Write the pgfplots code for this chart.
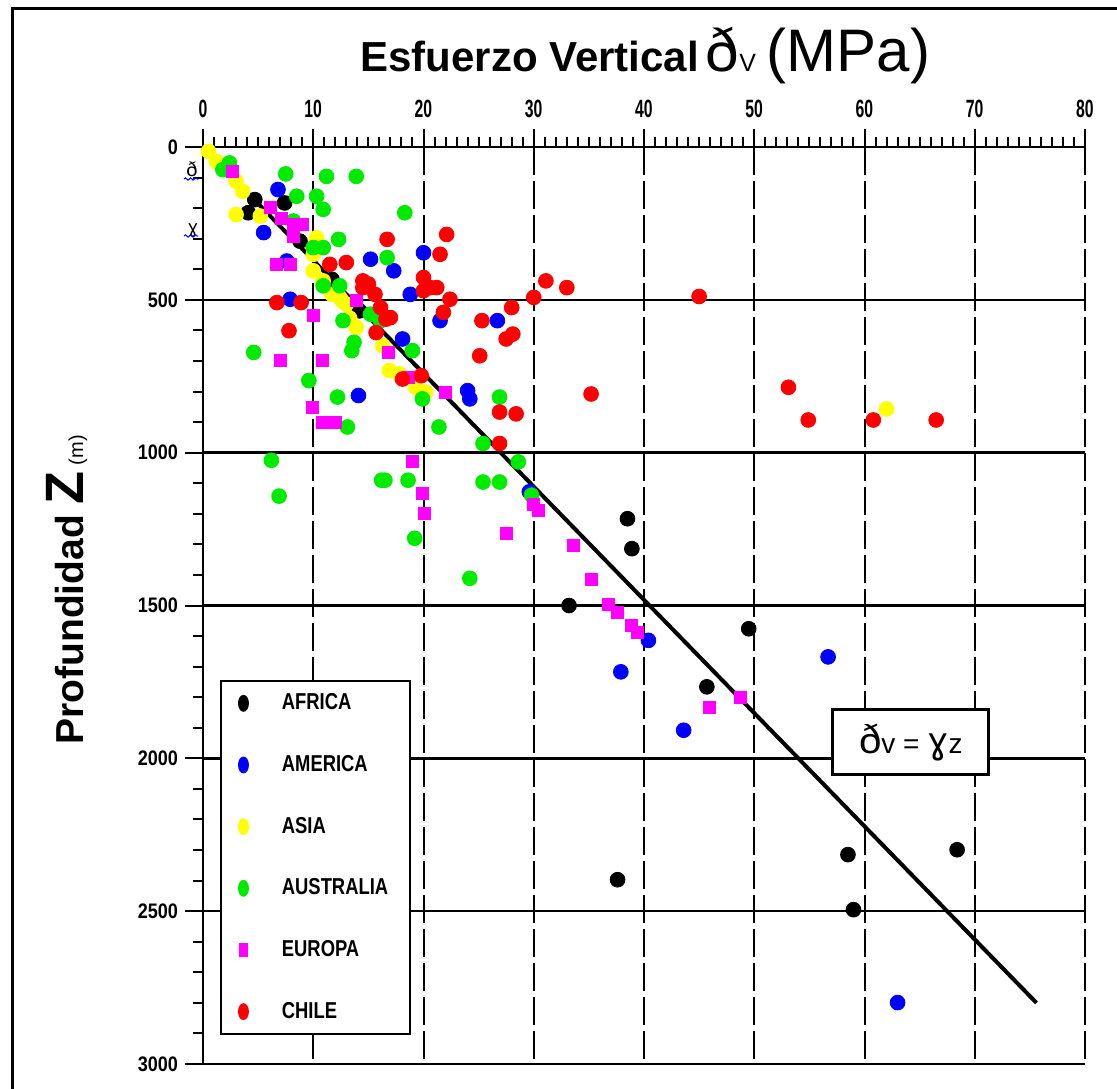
\documentclass[border=0pt]{standalone}
\usepackage{fontspec}
\usepackage{pgfplots}
\pgfplotsset{compat=1.18}
\usetikzlibrary{decorations.pathmorphing}
\setmainfont{Liberation Sans}
\newfontfamily\xtickfont[FakeStretch=0.63]{Liberation Sans Bold}
\newfontfamily\ytickfont[FakeStretch=0.86]{Liberation Sans Bold}
\newfontfamily\legfont[FakeStretch=0.8]{Liberation Sans Bold}
\newfontfamily\dvfont{DejaVu Sans}
\definecolor{cblue}{RGB}{0,0,255}
\definecolor{cyellow}{RGB}{255,255,0}
\definecolor{cgreen}{RGB}{0,235,0}
\definecolor{cmag}{RGB}{255,0,255}
\definecolor{cred}{RGB}{255,0,0}
\begin{document}
\begin{tikzpicture}
\useasboundingbox (0pt,0pt) rectangle (558.5pt,-544pt);
\draw[line width=1.5pt] (6pt,-546pt) -- (6pt,-4pt) -- (560pt,-4pt);
% title
\node[anchor=base west, inner sep=0] at (180pt,-35.5pt) {{\bfseries\fontsize{21}{22}\selectfont Esfuerzo Vertical}\hspace{3.5pt}{\fontsize{30}{30}\selectfont ð}{\fontsize{12.5}{13}\selectfont V}\hspace{5.5pt}{\fontsize{30}{30}\selectfont (MPa)}};
% y label
\node[rotate=90, anchor=base west, inner sep=0] at (41.5pt,-372.5pt) {{\bfseries\fontsize{19.5}{20}\selectfont Profundidad }{\bfseries\fontsize{27}{28}\selectfont Z}\hspace{3pt}{\fontsize{10}{11}\selectfont (m)}};
\begin{axis}[
  at={(101.5pt,-73.5pt)}, anchor=north west,
  width=441pt, height=458.5pt, scale only axis,
  xmin=0, xmax=80, ymin=0, ymax=3000, y dir=reverse,
  axis x line*=top, axis y line*=left,
  xtick={0,10,...,80}, ytick={0,500,...,3000},
  minor x tick num=9, minor y tick num=4,
  tick align=outside,
  major tick length=9pt, minor tick length=5pt,
  tick style={black, line width=1pt},
  axis line style={black, line width=1.3pt, -},
  xmajorgrids, ymajorgrids,
  major x grid style={black, line width=1pt, dash pattern=on 14pt off 3pt},
  major y grid style={black, line width=1.3pt},
  /pgf/number format/assume math mode=true,
  /pgf/number format/1000 sep={},
  xticklabel style={font=\xtickfont\fontsize{12.5}{13}\selectfont, yshift=2pt},
  yticklabel style={font=\ytickfont\fontsize{10.5}{11}\selectfont},
  clip=false,
  legend style={at={(0.0193,0.419)}, anchor=north west, draw=black, line width=1pt, fill=white,
    font=\legfont\fontsize{11.5}{12}\selectfont, row sep=17.3pt, inner xsep=9pt, inner ysep=4.5pt,
    /tikz/every odd column/.append style={column sep=15pt}},
  legend cell align=left,
  legend image code/.code={\draw[#1, mark options={xscale=0.6}] plot coordinates {(0cm,0cm)};},
]
\addplot[only marks, mark=*, mark size=3.7pt, draw=black, fill=black] coordinates {
(4.1,215) (4.7,172) (7.4,183) (8.8,308) (11.7,433) (14.2,536) (38.5,1216) (38.9,1314)
(33.2,1500) (49.5,1576) (45.7,1766) (58.5,2315) (68.4,2299) (37.6,2397) (59.0,2495)};
\addlegendentry{AFRICA}
\addplot[only marks, mark=*, mark size=3.7pt, draw=cblue, fill=cblue] coordinates {
(6.8,139) (5.5,280) (7.6,373) (15.2,367) (17.3,405) (20.0,346) (18.8,482) (7.9,498)
(21.5,568) (26.7,568) (18.1,628) (14.1,813) (24.0,797) (24.2,824) (29.6,1128)
(40.4,1614) (56.7,1668) (37.9,1717) (43.6,1908) (63.0,2799)};
\addlegendentry{AMERICA}
\addplot[only marks, mark=*, mark size=3.7pt, draw=cyellow, fill=cyellow] coordinates {
(0.5,14) (1.2,47) (2.0,74) (3.0,112) (3.6,145) (3.0,221) (5.2,226) (10.3,297) (10.0,351)
(10.0,405) (10.9,438) (11.7,482) (12.6,503) (12.4,492) (13.0,514) (13.3,560) (13.9,590)
(16.3,650) (16.9,731) (17.8,742) (19.3,786) (20.2,802) (62.0,857)};
\addlegendentry{ASIA}
\addplot[only marks, mark=*, mark size=3.7pt, draw=cgreen, fill=cgreen] coordinates {
(1.8,74) (2.4,52) (7.5,88) (11.2,96) (13.9,96) (8.5,161) (10.3,161) (10.9,204) (18.3,215)
(8.2,242) (10.0,329) (10.9,329) (12.3,302) (10.9,454) (12.4,454) (16.7,362) (12.7,568)
(15.2,547) (16.1,568) (13.5,666) (13.7,639) (19.0,666) (4.6,672) (9.6,764) (12.2,818)
(13.1,916) (21.4,916) (25.4,970) (26.9,818) (28.6,1030) (6.2,1025) (6.9,1142) (16.2,1090)
(16.5,1090) (18.6,1090) (25.4,1096) (26.9,1096) (19.2,1280) (24.2,1411) (29.8,1139) (19.9,824)};
\addlegendentry{AUSTRALIA}
\addplot[only marks, mark=square*, mark size=3pt, draw=cmag, fill=cmag] coordinates {
(2.7,79) (6.1,199) (7.1,232) (8.2,253) (9.0,253) (8.2,291) (6.7,384) (7.9,384) (13.9,503)
(10.0,552) (7.0,699) (10.8,699) (9.9,851) (10.8,900) (11.4,900) (12.0,900) (16.8,672)
(18.6,753) (22.0,802) (19.0,1030) (19.9,1134) (20.1,1199) (30.0,1170) (30.4,1188) (27.5,1264)
(33.6,1302) (35.2,1416) (36.8,1495) (37.6,1522) (38.9,1565) (39.4,1587) (45.9,1832) (48.7,1799)};
\addlegendentry{EUROPA}
\addplot[only marks, mark=*, mark size=3.7pt, draw=cred, fill=cred] coordinates {
(16.7,302) (13.0,378) (11.5,384) (22.1,286) (21.5,351) (20.0,427) (20.6,460) (21.2,460)
(22.4,498) (14.5,438) (15.0,448) (15.6,482) (14.5,460) (6.7,509) (8.9,509) (28.0,525)
(30.0,492) (31.1,438) (33.0,460) (25.3,568) (17.0,558) (16.1,525) (7.8,601) (16.6,563)
(21.8,541) (25.1,683) (27.5,628) (28.1,612) (26.9,867) (28.4,873) (26.9,970) (35.2,808)
(19.8,748) (18.1,759) (15.7,607) (45.0,489) (53.1,786) (54.9,893) (60.8,893) (66.5,893) (20.0,470)};
\addlegendentry{CHILE}
\addplot[forget plot, black, line width=2pt, no marks] coordinates {(0,0) (75.6,2800)};
\node[draw=black, fill=white, line width=1.5pt, minimum width=78pt, minimum height=32.5pt, inner sep=0]
  at (axis cs:64.2,1948) {{\fontsize{20}{20}\selectfont ð}{\fontsize{14}{14}\selectfont v = }{\dvfont\fontsize{18}{18}\selectfont ɣ}{\fontsize{14}{14}\selectfont z}};
\end{axis}
% stray glyphs near the y axis
\node[anchor=base, inner sep=0, font=\fontsize{10}{10}\selectfont] at (96pt,-88pt) {ð};
\draw[cblue, line width=0.5pt, decorate, decoration={snake, amplitude=0.6pt, segment length=2.5pt}] (92pt,-89.5pt) -- (99pt,-89.5pt);
\node[anchor=base, inner sep=0, font=\dvfont\fontsize{9}{9}\selectfont] at (96.5pt,-116.5pt) {ɣ};
\draw[cblue, line width=0.5pt, decorate, decoration={snake, amplitude=0.6pt, segment length=2.5pt}] (92pt,-118pt) -- (99pt,-118pt);
\end{tikzpicture}
\end{document}
